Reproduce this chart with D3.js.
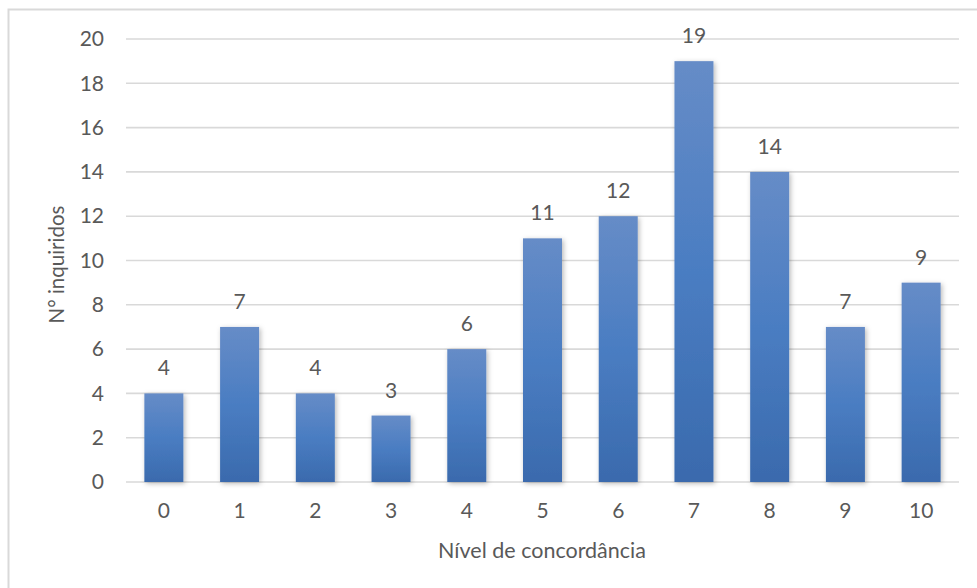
<!DOCTYPE html>
<html>
<head>
<meta charset="utf-8">
<script src="https://cdn.jsdelivr.net/npm/d3@7"></script>
<style>
  html, body { margin: 0; padding: 0; background: #fff; }
  svg text { font-family: Lato, "Open Sans", sans-serif; fill: #595959; }
</style>
</head>
<body>
<svg id="chart" width="977" height="588"></svg>
<script>
// Respondents per agreement level
const levels = ["0", "1", "2", "3", "4", "5", "6", "7", "8", "9", "10"];
const counts = [4, 7, 4, 3, 6, 11, 12, 19, 14, 7, 9];
const yTicks = [0, 2, 4, 6, 8, 10, 12, 14, 16, 18, 20];

const svg = d3.select("#chart");
const W = 977, H = 588;
const plot = { left: 126, right: 959, top: 39, bottom: 482 };

// Chart frame
svg.append("rect")
  .attr("x", 8.5).attr("y", 9.5)
  .attr("width", W + 20).attr("height", H + 20)
  .attr("fill", "#fff").attr("stroke", "#d9d9d9").attr("stroke-width", 2);

const defs = svg.append("defs");
const grad = defs.append("linearGradient")
  .attr("id", "barGrad").attr("x1", 0).attr("y1", 0).attr("x2", 0).attr("y2", 1);
grad.append("stop").attr("offset", "0%").attr("stop-color", "#668cc7");
grad.append("stop").attr("offset", "50%").attr("stop-color", "#4a7dc2");
grad.append("stop").attr("offset", "100%").attr("stop-color", "#3a6aad");

const shadow = defs.append("filter").attr("id", "barShadow")
  .attr("x", "-30%").attr("y", "-10%").attr("width", "160%").attr("height", "130%");
shadow.append("feDropShadow")
  .attr("dx", 1.5).attr("dy", 1.5).attr("stdDeviation", 2.5)
  .attr("flood-color", "#000").attr("flood-opacity", 0.28);

const x = d3.scaleBand().domain(levels).range([plot.left, plot.right]).paddingInner(0.485).paddingOuter(0.2425);
const y = d3.scaleLinear().domain([0, 20]).range([plot.bottom, plot.top]);

// Horizontal gridlines
svg.append("g").selectAll("line").data(yTicks).join("line")
  .attr("x1", plot.left).attr("x2", plot.right)
  .attr("y1", d => y(d)).attr("y2", d => y(d))
  .attr("stroke", "#d9d9d9").attr("stroke-width", 1.6);

// Y axis labels
const yAxis = svg.append("g")
  .attr("transform", `translate(${plot.left - 22},0)`)
  .call(d3.axisLeft(y).tickValues(yTicks).tickSize(0).tickPadding(0));
yAxis.select(".domain").remove();
yAxis.selectAll("text").attr("font-size", 21).attr("fill", "#595959")
  .style("font-family", "Lato, 'Open Sans', sans-serif");

// X axis labels
const xAxis = svg.append("g")
  .attr("transform", `translate(0,${plot.bottom + 21})`)
  .call(d3.axisBottom(x).tickSize(0).tickPadding(0));
xAxis.select(".domain").remove();
xAxis.selectAll("text").attr("font-size", 21).attr("fill", "#595959")
  .style("font-family", "Lato, 'Open Sans', sans-serif");

// Bars
svg.append("g").selectAll("rect").data(counts).join("rect")
  .attr("x", (d, i) => x(levels[i]))
  .attr("y", d => y(d))
  .attr("width", x.bandwidth())
  .attr("height", d => y(0) - y(d))
  .attr("fill", "url(#barGrad)")
  .attr("filter", "url(#barShadow)");

// Value labels
svg.append("g").selectAll("text").data(counts).join("text")
  .attr("x", (d, i) => x(levels[i]) + x.bandwidth() / 2)
  .attr("y", d => y(d) - 18)
  .attr("text-anchor", "middle")
  .attr("font-size", 21)
  .text(d => d);

// Axis titles
svg.append("text")
  .attr("x", 542)
  .attr("y", 558)
  .attr("text-anchor", "middle")
  .attr("font-size", 21.5)
  .text("Nível de concordância");

svg.append("text")
  .attr("transform", `translate(64,${(plot.top + plot.bottom) / 2 + 4}) rotate(-90)`)
  .attr("text-anchor", "middle")
  .attr("font-size", 20.5)
  .text("N° inquiridos");
</script>
</body>
</html>
